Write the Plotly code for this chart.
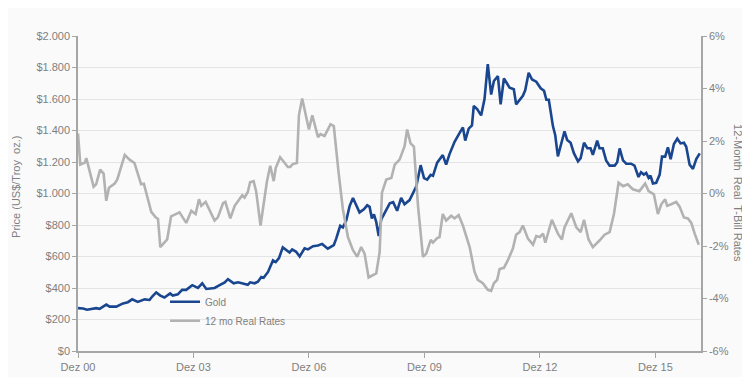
import plotly.graph_objects as go

# ---------------- data ----------------
gold_dates = [
    "2000-12-01", "2001-01-18", "2001-02-25", "2001-04-05", "2001-05-22", "2001-06-24",
    "2001-08-26", "2001-09-27", "2001-11-29", "2002-02-01", "2002-03-19", "2002-04-29",
    "2002-06-21", "2002-08-25", "2002-10-11", "2002-11-05", "2002-12-13", "2003-01-21",
    "2003-03-01", "2003-04-24", "2003-05-19", "2003-07-06", "2003-08-16", "2003-09-24",
    "2003-11-20", "2004-01-13", "2004-02-23", "2004-04-01", "2004-06-19", "2004-08-06",
    "2004-09-23", "2004-10-24", "2004-12-17", "2005-01-28", "2005-03-14", "2005-04-30",
    "2005-05-22", "2005-07-03", "2005-08-04", "2005-09-05", "2005-09-27", "2005-11-08",
    "2005-11-29", "2005-12-25", "2006-01-20", "2006-02-20", "2006-03-28", "2006-04-29",
    "2006-05-31", "2006-06-25", "2006-08-02", "2006-09-04", "2006-10-21", "2006-11-22",
    "2007-01-09", "2007-02-25", "2007-04-05", "2007-05-29", "2007-07-25", "2007-08-16",
    "2007-09-24", "2007-10-19", "2007-11-20", "2007-12-22", "2008-01-23", "2008-03-25",
    "2008-05-05", "2008-06-06", "2008-06-29", "2008-07-20", "2008-08-09", "2008-08-31",
    "2008-09-23", "2008-10-17", "2008-11-25", "2009-01-06", "2009-02-07", "2009-03-17",
    "2009-04-24", "2009-05-26", "2009-07-13", "2009-08-23", "2009-09-15", "2009-10-26",
    "2009-11-27", "2009-12-27", "2010-01-29", "2010-02-20", "2010-04-01", "2010-05-24",
    "2010-06-25", "2010-07-27", "2010-09-13", "2010-10-31", "2010-12-01", "2010-12-23",
    "2011-01-25", "2011-02-25", "2011-03-14", "2011-04-15", "2011-05-23", "2011-06-24",
    "2011-07-25", "2011-08-26", "2011-09-21", "2011-10-29", "2011-11-24", "2011-12-25",
    "2012-02-17", "2012-03-28", "2012-04-19", "2012-06-22", "2012-07-14", "2012-08-16",
    "2012-09-17", "2012-10-27", "2012-12-08", "2013-01-09", "2013-01-31", "2013-02-23",
    "2013-04-03", "2013-04-25", "2013-05-20", "2013-07-22", "2013-08-16", "2013-09-18",
    "2013-10-19", "2013-11-27", "2013-12-22", "2014-01-23", "2014-02-24", "2014-03-26",
    "2014-04-17", "2014-05-28", "2014-06-19", "2014-07-20", "2014-08-21", "2014-09-23",
    "2014-11-10", "2014-12-04", "2014-12-27", "2015-01-28", "2015-02-28", "2015-04-15",
    "2015-05-17", "2015-06-24", "2015-07-18", "2015-08-14", "2015-09-05", "2015-09-28",
    "2015-10-16", "2015-11-08", "2015-12-09", "2016-01-11", "2016-02-02", "2016-03-03",
    "2016-03-29", "2016-04-24", "2016-05-25", "2016-06-26", "2016-07-27", "2016-08-28",
    "2016-09-19", "2016-10-21", "2016-11-22", "2016-12-23", "2017-01-25",
]
gold_price = [
    272, 270, 262, 268, 272, 268,
    295, 282, 282, 302, 310, 328,
    312, 328, 324, 346, 372, 352,
    340, 366, 352, 360, 388, 388,
    418, 400, 430, 394, 400, 418,
    436, 456, 430, 436, 430, 420,
    436, 430, 440, 470, 465, 502,
    535, 575, 565, 590, 658, 640,
    625, 645, 630, 600, 652, 645,
    665, 670, 680, 650, 673, 712,
    795, 785, 828, 920, 972, 880,
    900, 925, 915, 842, 868, 818,
    730, 836, 888, 938, 945, 890,
    972, 932, 958, 1015, 1045, 1180,
    1098, 1088, 1118, 1112, 1196, 1244,
    1183, 1250, 1328, 1385, 1420, 1336,
    1412, 1432, 1556, 1536, 1496, 1600,
    1822, 1628, 1714, 1745, 1566, 1730,
    1672, 1662, 1566, 1620, 1655, 1766,
    1724, 1710, 1668, 1652, 1595, 1595,
    1428, 1370, 1236, 1395, 1340, 1322,
    1256, 1204, 1225, 1322, 1287, 1287,
    1246, 1335, 1287, 1287, 1210, 1177,
    1177, 1198, 1286, 1210, 1189, 1189,
    1177, 1105, 1135, 1120, 1130, 1099,
    1114, 1064, 1068, 1120, 1234, 1234,
    1293, 1218, 1314, 1348, 1318, 1322,
    1297, 1183, 1156, 1218, 1255,
]

rate_dates = [
    "2000-12-01", "2000-12-23", "2001-02-04", "2001-02-18", "2001-04-28", "2001-05-22",
    "2001-06-29", "2001-08-01", "2001-08-26", "2001-09-21", "2001-11-14", "2001-12-08",
    "2002-02-18", "2002-04-04", "2002-05-21", "2002-06-21", "2002-07-23", "2002-08-18",
    "2002-09-16", "2002-10-27", "2002-12-08", "2002-12-30", "2003-01-21", "2003-03-27",
    "2003-05-03", "2003-07-22", "2003-09-24", "2003-11-11", "2003-12-22", "2004-01-23",
    "2004-02-14", "2004-03-26", "2004-06-19", "2004-07-20", "2004-09-07", "2004-09-29",
    "2004-11-15", "2004-12-27", "2005-03-08", "2005-03-30", "2005-04-30", "2005-05-22",
    "2005-06-24", "2005-07-18", "2005-08-29", "2005-09-27", "2005-10-29", "2005-11-29",
    "2006-01-01", "2006-01-20", "2006-03-03", "2006-04-04", "2006-05-15", "2006-06-06",
    "2006-07-01", "2006-08-09", "2006-08-28", "2006-09-28", "2006-12-01", "2007-01-02",
    "2007-02-25", "2007-03-20", "2007-04-28", "2007-06-24", "2007-07-25", "2007-09-09",
    "2007-10-19", "2007-12-06", "2008-01-23", "2008-03-03", "2008-04-10", "2008-05-12",
    "2008-06-19", "2008-08-31", "2008-10-02", "2008-10-12", "2008-10-24", "2008-12-04",
    "2009-01-21", "2009-02-22", "2009-04-09", "2009-05-26", "2009-06-20", "2009-07-22",
    "2009-08-23", "2009-10-01", "2009-11-17", "2009-12-18", "2010-01-30", "2010-02-20",
    "2010-04-01", "2010-04-23", "2010-05-24", "2010-06-25", "2010-08-12", "2010-09-13",
    "2010-10-21", "2010-12-01", "2011-02-03", "2011-03-21", "2011-04-21", "2011-06-08",
    "2011-07-25", "2011-08-26", "2011-09-21", "2011-10-22", "2011-11-14", "2011-12-25",
    "2012-02-01", "2012-03-19", "2012-04-19", "2012-05-22", "2012-06-22", "2012-08-09",
    "2012-09-26", "2012-10-27", "2012-11-29", "2012-12-30", "2013-01-21", "2013-03-24",
    "2013-05-23", "2013-06-27", "2013-07-22", "2013-09-24", "2013-11-11", "2013-12-22",
    "2014-01-23", "2014-03-07", "2014-04-17", "2014-06-19", "2014-08-06", "2014-09-23",
    "2014-11-03", "2014-12-17", "2015-01-28", "2015-03-14", "2015-05-01", "2015-07-03",
    "2015-08-26", "2015-09-28", "2015-11-17", "2015-12-25", "2016-01-26", "2016-03-03",
    "2016-03-22", "2016-04-29", "2016-06-16", "2016-07-18", "2016-08-28", "2016-10-05",
    "2016-11-06", "2016-12-08", "2017-01-16",
]
rate_pct = [
    2.29, 1.10, 1.18, 1.35, 0.26, 0.35,
    0.91, 0.76, -0.28, 0.22, 0.38, 0.53,
    1.47, 1.29, 1.16, 0.76, 0.35, 0.37,
    -0.09, -0.70, -0.91, -0.97, -2.04, -1.75,
    -0.87, -0.72, -1.12, -0.66, -0.78, -0.22,
    -0.47, -0.32, -1.03, -0.91, -0.37, -0.32,
    -0.95, -0.47, -0.07, -0.16, 0.06, 0.43,
    0.47, 0.09, -1.22, -0.47, 0.47, 1.06,
    0.47, 0.97, 1.38, 1.22, 1.01, 1.01,
    1.12, 1.16, 2.98, 3.62, 2.44, 2.98,
    2.15, 2.26, 2.19, 2.64, 2.57, 0.78,
    -0.59, -1.66, -2.16, -2.41, -2.04, -2.29,
    -3.20, -3.04, -2.23, -1.22, 0.03, 0.53,
    0.59, 1.10, 1.29, 1.79, 2.44, 1.91,
    1.79, -0.47, -2.41, -2.29, -1.77, -1.87,
    -1.70, -1.66, -0.78, -1.03, -0.85, -0.95,
    -0.82, -1.22, -2.04, -2.98, -3.29, -3.42,
    -3.67, -3.71, -3.42, -3.29, -2.88, -2.83,
    -2.54, -2.10, -1.57, -1.47, -1.22, -1.72,
    -1.95, -1.62, -1.66, -1.53, -1.87, -1.00,
    -1.55, -1.75, -1.29, -0.75, -1.29, -1.47,
    -1.00, -1.75, -2.04, -1.79, -1.57, -1.47,
    -0.78, 0.41, 0.28, 0.35, 0.16, 0.09,
    0.38, 0.09, -0.03, -0.78, -0.41, -0.22,
    -0.47, -0.41, -0.32, -0.50, -0.91, -0.95,
    -1.12, -1.53, -1.95,
]

x_tick_dates = ["2000-12-01", "2003-12-01", "2006-12-01", "2009-12-01", "2012-12-01", "2015-12-01"]
x_tick_labels = ["Dez 00", "Dez 03", "Dez 06", "Dez 09", "Dez 12", "Dez 15"]
price_ticks = [0, 200, 400, 600, 800, 1000, 1200, 1400, 1600, 1800, 2000]
price_labels = ["$0", "$200", "$400", "$600", "$800", "$1.000", "$1.200",
                "$1.400", "$1.600", "$1.800", "$2.000"]
rate_ticks = [-6, -4, -2, 0, 2, 4, 6]
rate_labels = ["-6%", "-4%", "-2%", "0%", "2%", "4%", "6%"]

# ---------------- styling ----------------
GOLD = "#1a4690"
RATE = "#b2b2b2"
TXT = "#7f7f7f"
AXL = "#a6a6a6"
GRID = "#e4e4e4"
BG = "#fafafa"
FONT = "Liberation Sans, Arial, sans-serif"

fig = go.Figure()
fig.add_trace(go.Scatter(x=gold_dates, y=gold_price, name="Gold", mode="lines",
                         line=dict(color=GOLD, width=2.6), yaxis="y"))
fig.add_trace(go.Scatter(x=rate_dates, y=rate_pct, name="12 mo Real Rates", mode="lines",
                         line=dict(color=RATE, width=2.6), yaxis="y2"))

fig.update_layout(
    width=750, height=377,
    margin=dict(l=70, r=57, t=28, b=30),
    paper_bgcolor=BG, plot_bgcolor=BG,
    font=dict(family=FONT, size=11, color=TXT),
    showlegend=True,
    legend=dict(x=0.1397, y=0.2025, xanchor="left", yanchor="top",
                bgcolor="rgba(0,0,0,0)", font=dict(size=10, color=TXT),
                tracegroupgap=0, itemwidth=30),
    xaxis=dict(type="date", range=["2000-12-01", "2017-02-06"],
               tickvals=x_tick_dates, ticktext=x_tick_labels,
               showgrid=False, zeroline=False, showline=True, linecolor=AXL, linewidth=1.5,
               ticks="outside", ticklen=5, tickcolor=AXL, tickwidth=1,
               tickfont=dict(size=11, color=TXT)),
    yaxis=dict(range=[0, 2000], tickvals=price_ticks, ticktext=price_labels,
               showgrid=True, gridcolor=GRID, gridwidth=1, zeroline=False,
               showline=True, linecolor=AXL, linewidth=1.5,
               ticks="outside", ticklen=4, tickcolor=AXL,
               tickfont=dict(size=11, color=TXT)),
    yaxis2=dict(range=[-6, 6], tickvals=rate_ticks, ticktext=rate_labels,
                overlaying="y", side="right", showgrid=False, zeroline=False,
                showline=True, linecolor=AXL, linewidth=1.5,
                ticks="outside", ticklen=4, tickcolor=AXL,
                tickfont=dict(size=11, color=TXT)),
    annotations=[
        dict(text="Price (US$/Troy  oz.)", xref="paper", yref="paper",
             x=-0.1, y=0.52, xanchor="center", yanchor="middle",
             textangle=-90, showarrow=False, font=dict(size=11, color=TXT)),
        dict(text="12-Month  Real  T-Bill Rates", xref="paper", yref="paper",
             x=1.06, y=0.5, xanchor="center", yanchor="middle",
             textangle=90, showarrow=False, font=dict(size=11, color=TXT)),
    ],
)

fig.write_html("out.html")
